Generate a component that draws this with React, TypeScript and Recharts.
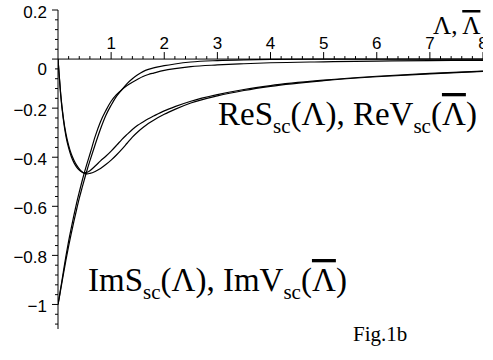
import React from "react";
import {
  ComposedChart,
  Line,
  Scatter,
  XAxis,
  YAxis,
  ReferenceLine,
} from "recharts";

// Lambda grid
const xs = [
  0, 0.02, 0.05, 0.1, 0.15, 0.2, 0.25, 0.3, 0.35, 0.4, 0.45, 0.5, 0.55, 0.6,
  0.7, 0.8, 0.9, 1.0, 1.1, 1.2, 1.3, 1.4, 1.5, 1.6, 1.7, 1.8, 2.0, 2.2, 2.5,
  3, 3.5, 4, 5, 6, 7, 8,
];

const imS = [
  -1, -0.975, -0.935, -0.868, -0.802, -0.742, -0.688, -0.636, -0.587, -0.542,
  -0.5, -0.46, -0.423, -0.388, -0.315, -0.255, -0.21, -0.172, -0.145, -0.125,
  -0.108, -0.094, -0.082, -0.071, -0.063, -0.057, -0.046, -0.039, -0.031,
  -0.024, -0.019, -0.015, -0.011, -0.008, -0.006, -0.005,
];

const imV = [
  -1, -0.977, -0.94, -0.878, -0.818, -0.762, -0.71, -0.66, -0.613, -0.568,
  -0.527, -0.488, -0.45, -0.415, -0.348, -0.285, -0.23, -0.188, -0.152, -0.125,
  -0.1, -0.08, -0.064, -0.051, -0.042, -0.036, -0.027, -0.02, -0.012, -0.006,
  -0.003, -0.0015, -0.0005, 0, 0, 0,
];

const reS = [
  0, -0.06, -0.145, -0.245, -0.315, -0.362, -0.397, -0.422, -0.44, -0.452,
  -0.46, -0.463, -0.461, -0.455, -0.436, -0.415, -0.396, -0.375, -0.352,
  -0.328, -0.307, -0.287, -0.27, -0.256, -0.243, -0.232, -0.211, -0.194,
  -0.172, -0.145, -0.124, -0.108, -0.086, -0.07, -0.058, -0.049,
];

const reV = [
  0, -0.058, -0.14, -0.238, -0.305, -0.352, -0.387, -0.412, -0.432, -0.447,
  -0.459, -0.466, -0.468, -0.466, -0.458, -0.446, -0.43, -0.412, -0.391,
  -0.368, -0.343, -0.318, -0.297, -0.279, -0.263, -0.249, -0.225, -0.205,
  -0.179, -0.15, -0.128, -0.111, -0.088, -0.072, -0.06, -0.05,
];

const xMajorTicks = [1, 2, 3, 4, 5, 6, 7, 8];
const yMajorLabels: Record<number, string> = {
  5: "0.2",
  0: "0",
  [-5]: "\u22120.2",
  [-10]: "\u22120.4",
  [-15]: "\u22120.6",
  [-20]: "\u22120.8",
  [-25]: "\u22121",
};

const data = xs.map((x, i) => ({
  x,
  imS: imS[i],
  imV: imV[i],
  reS: reS[i],
  reV: reV[i],
}));

// minor ticks every 0.2 along Lambda, every 0.04 along y
const xTickData = Array.from({ length: 40 }, (_, i) => {
  const x = Math.round((i + 1) * 2) / 10;
  return { x, y: 0, major: xMajorTicks.includes(x) };
});
const yTickSteps = Array.from({ length: 33 }, (_, i) => i - 27);
const yTicks = yTickSteps.map((s) => Math.round(s * 4) / 100);

const SANS = "'Liberation Sans', Arial, sans-serif";
const SERIF = "'Liberation Serif', 'Times New Roman', serif";
const LAMBDA = "\u039B";
const over = { textDecoration: "overline", textDecorationThickness: "1.5px" };

const XTick = (props: any) => {
  const { cx, cy, payload } = props;
  const len = payload.major ? 7 : 3;
  return (
    <g>
      <line x1={cx} x2={cx} y1={cy} y2={cy - len} stroke="#000" />
      {payload.major && (
        <text
          x={cx}
          y={cy - 10}
          textAnchor="middle"
          fontFamily={SANS}
          fontSize={17}
          fill="#000"
        >
          {payload.x}
        </text>
      )}
    </g>
  );
};

const YTick = (props: any) => {
  const { x, y, payload } = props;
  const step = Math.round(payload.value * 25);
  const label = yMajorLabels[step];
  const major = label !== undefined;
  return (
    <g>
      <line x1={x - (major ? 6 : 3)} x2={x} y1={y} y2={y} stroke="#000" />
      {major && (
        <text
          x={x - 11}
          y={y + (step === 0 ? 16 : 8)}
          textAnchor="end"
          fontFamily={SANS}
          fontSize={17}
          fill="#000"
        >
          {label}
        </text>
      )}
    </g>
  );
};

const FuncLabel = ({ x, y, part }: { x: number; y: number; part: string }) => (
  <text x={x} y={y} fontFamily={SERIF} fontSize={33} fill="#000">
    {part}S
    <tspan dy={8} fontSize={21}>sc</tspan>
    <tspan dy={-8}>{`(${LAMBDA}), ${part}V`}</tspan>
    <tspan dy={8} fontSize={21}>sc</tspan>
    <tspan dy={-8}>(</tspan>
    <tspan style={over}>{LAMBDA}</tspan>
    <tspan>)</tspan>
  </text>
);

const App: React.FC = () => {
  return (
    <div
      style={{
        position: "absolute",
        left: 0,
        top: 0,
        width: 493,
        height: 360,
        background: "#fff",
      }}
    >
      <ComposedChart
        width={493}
        height={360}
        data={data}
        margin={{ top: 10, right: 10, bottom: 31, left: 0 }}
      >
        <XAxis
          dataKey="x"
          type="number"
          domain={[0, 8]}
          allowDataOverflow
          hide
        />
        <YAxis
          type="number"
          domain={[-1.1, 0.2]}
          ticks={yTicks}
          interval={0}
          width={58}
          tickSize={0}
          tickMargin={0}
          tickLine={false}
          axisLine={{ stroke: "#000" }}
          tick={<YTick />}
          allowDataOverflow
        />
        <ReferenceLine y={0} stroke="#000" />
        <Line type="monotone" dataKey="reS" stroke="#000" strokeWidth={1.2} dot={false} isAnimationActive={false} />
        <Line type="monotone" dataKey="reV" stroke="#000" strokeWidth={1.2} dot={false} isAnimationActive={false} />
        <Line type="monotone" dataKey="imS" stroke="#000" strokeWidth={1.2} dot={false} isAnimationActive={false} />
        <Line type="monotone" dataKey="imV" stroke="#000" strokeWidth={1.2} dot={false} isAnimationActive={false} />
        <Scatter
          data={xTickData}
          dataKey="y"
          shape={<XTick />}
          isAnimationActive={false}
        />
      </ComposedChart>
      <svg
        width={493}
        height={360}
        style={{ position: "absolute", left: 0, top: 0, pointerEvents: "none" }}
      >
        <text x={433} y={34} fontFamily={SERIF} fontSize={25} fill="#000">
          {`${LAMBDA}, `}
          <tspan style={over}>{LAMBDA}</tspan>
        </text>
        <FuncLabel x={218} y={125} part="Re" />
        <FuncLabel x={88} y={291} part="Im" />
        <text x={353} y={341} fontFamily={SERIF} fontSize={21} fill="#000">
          Fig.1b
        </text>
      </svg>
    </div>
  );
};

export default App;
